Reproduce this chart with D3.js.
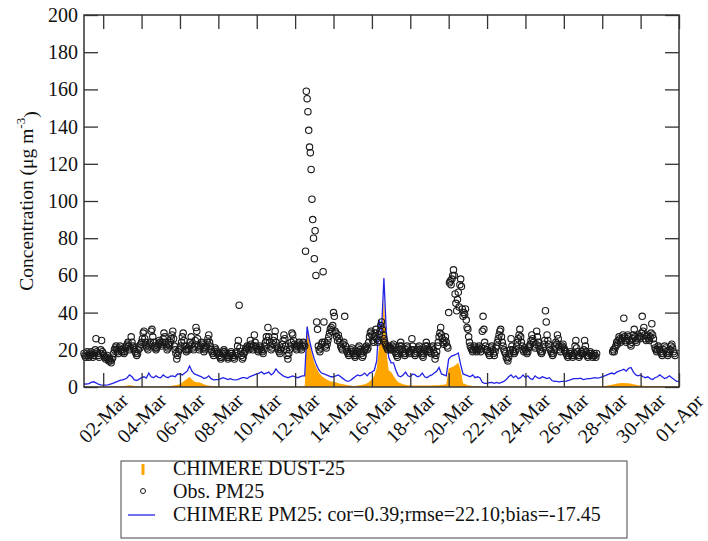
<!DOCTYPE html>
<html>
<head>
<meta charset="utf-8">
<script src="https://cdn.jsdelivr.net/npm/d3@7"></script>
</head>
<body style="margin:0; background:#fff">
<div id="chart"></div>
<script>
// x tick labels (every 2 days)
const xTickLabels = ['02-Mar', '04-Mar', '06-Mar', '08-Mar', '10-Mar', '12-Mar', '14-Mar', '16-Mar',
  '18-Mar', '20-Mar', '22-Mar', '24-Mar', '26-Mar', '28-Mar', '30-Mar', '01-Apr'];
const yTicks = [0, 20, 40, 60, 80, 100, 120, 140, 160, 180, 200];

// CHIMERE PM25, every 3 hours from 01-Mar 00h (one row per day)
const modelPm25 = [
  1.6, 1.6, 1.8, 2.5, 2.8, 2.2, 1.5, 1.2,
  1.0, 1.0, 1.2, 1.5, 2.0, 2.5, 3.0, 3.5,
  3.8, 4.2, 5.0, 6.5, 5.5, 3.8, 3.5, 4.2,
  5.0, 5.5, 4.8, 7.5, 5.5, 5.0, 6.0, 5.2,
  5.0, 6.5, 5.5, 5.0, 5.8, 6.0, 5.5, 7.0,
  7.0, 6.5, 7.5, 8.5, 11.3, 8.5, 7.0, 6.5,
  6.0, 5.5, 4.5, 5.0, 6.0, 4.5, 3.8, 4.0,
  4.0, 4.5, 5.0, 4.5, 4.0, 4.5, 4.0, 3.8,
  4.0, 4.5, 5.0, 5.0, 4.5, 5.5, 6.0, 6.5,
  7.0, 7.5, 8.2, 7.0, 7.5, 8.0, 6.5, 7.5,
  9.7, 8.0, 7.0, 6.0, 5.5, 5.0, 5.5, 6.0,
  5.5, 5.0, 5.5, 6.0, 6.0, 32.5, 25.0, 19.5,
  15.0, 11.5, 9.0, 7.5, 7.0, 6.5, 6.0, 5.5,
  5.5, 6.0, 6.5, 5.5, 4.5, 3.5, 3.0, 3.5,
  4.5, 5.5, 6.5, 6.0, 6.5, 7.5, 6.0, 7.5,
  8.0, 9.0, 14.0, 36.0, 30.0, 58.6, 30.0, 16.0,
  13.0, 13.0, 9.0, 6.0, 5.5, 6.5, 8.0, 6.0,
  5.5, 7.0, 6.5, 5.5, 6.0, 7.5, 5.5, 5.0,
  6.0, 6.5, 7.5, 8.5, 10.5, 7.0, 6.5, 6.0,
  15.0, 16.5, 17.0, 17.5, 18.3, 12.0, 7.0, 6.5,
  6.0, 5.5, 6.5, 5.0, 5.5, 5.0, 2.5, 2.0,
  2.0, 2.3, 2.5, 2.0, 2.5, 2.0, 2.5, 3.0,
  4.0, 5.5, 6.5, 5.0, 6.0, 4.5, 5.0, 6.5,
  5.0, 6.0, 4.5, 4.0, 6.0, 5.0, 4.5, 5.5,
  5.0, 4.5, 5.0, 3.5, 3.0, 3.0, 2.8, 3.0,
  3.0, 3.2, 3.5, 4.0, 4.5, 4.5, 4.5, 4.7,
  4.0, 4.2, 4.5, 4.5, 4.8, 5.0, 4.8, 5.0,
  5.5, 6.0, 6.5, 7.0, 7.5, 7.0, 8.0, 8.5,
  9.0, 9.5, 8.5, 10.0, 10.5, 8.0, 6.5, 6.0,
  6.5, 5.5, 5.0, 5.5, 4.5, 4.0, 5.0, 5.5,
  6.5, 5.5, 4.5, 5.0, 6.0, 5.0, 4.0, 3.0,
  3.0
];

// CHIMERE DUST-25, every 3 hours
const modelDust = [
  0.3, 0.3, 0.3, 0.3, 0.3, 0.3, 0.3, 0.3,
  0.3, 0.3, 0.3, 0.4, 0.5, 0.5, 0.4, 0.4,
  0.5, 0.6, 0.8, 1.0, 0.8, 0.6, 0.5, 0.4,
  0.4, 0.3, 0.3, 0.3, 0.4, 0.4, 0.3, 0.3,
  0.3, 0.4, 0.4, 0.5, 0.6, 0.8, 1.0, 1.2,
  1.5, 2.5, 3.5, 4.5, 5.5, 4.0, 3.0, 2.5,
  2.5, 2.0, 1.5, 1.0, 0.8, 0.6, 0.5, 0.5,
  0.4, 0.4, 0.4, 0.3, 0.3, 0.3, 0.3, 0.3,
  0.3, 0.3, 0.3, 0.3, 0.3, 0.3, 0.3, 0.3,
  0.3, 0.3, 0.3, 0.3, 0.3, 0.3, 0.3, 0.3,
  0.3, 0.3, 0.3, 0.3, 0.3, 0.3, 0.3, 0.3,
  0.3, 0.3, 0.3, 0.4, 0.5, 31.0, 24.0, 18.0,
  13.0, 10.0, 7.5, 6.0, 5.0, 4.2, 3.5, 3.0,
  2.8, 2.5, 2.0, 1.8, 1.5, 1.2, 1.0, 0.8,
  0.5, 0.6, 0.8, 1.0, 1.2, 1.5, 2.0, 3.0,
  4.0, 6.0, 10.0, 22.0, 24.0, 48.0, 20.0, 9.0,
  8.0, 6.0, 4.0, 2.5, 2.0, 1.5, 1.2, 1.0,
  1.0, 0.8, 0.8, 0.8, 0.8, 0.8, 0.8, 0.8,
  0.8, 0.8, 1.0, 1.0, 1.0, 1.2, 1.2, 1.5,
  10.0, 10.5, 11.0, 12.0, 13.0, 9.0, 2.0, 1.5,
  1.0, 0.8, 0.6, 0.5, 0.5, 0.4, 0.3, 0.3,
  0.3, 0.3, 0.3, 0.3, 0.3, 0.3, 0.3, 0.3,
  0.3, 0.3, 0.3, 0.3, 0.3, 0.3, 0.3, 0.3,
  0.3, 0.3, 0.3, 0.3, 0.3, 0.3, 0.3, 0.3,
  0.3, 0.3, 0.3, 0.3, 0.3, 0.3, 0.3, 0.3,
  0.3, 0.3, 0.3, 0.3, 0.3, 0.3, 0.3, 0.3,
  0.3, 0.3, 0.3, 0.3, 0.3, 0.3, 0.3, 0.3,
  0.5, 0.6, 0.8, 1.0, 1.2, 1.5, 1.8, 2.0,
  2.2, 2.2, 2.0, 2.0, 1.8, 1.5, 1.2, 1.0,
  0.8, 0.7, 0.6, 0.6, 0.5, 0.5, 0.5, 0.5,
  0.5, 0.5, 0.5, 0.5, 0.4, 0.4, 0.4, 0.4,
  0.4
];

// Obs. PM25, hourly from 01-Mar 00h (one row per day, null = missing)
const obsPm25 = [
  18, 17, 16, 18, 19, 17, 16, 18, 17, 19, 18, 16, 17, 18, 20, 26, 19, 18, 17, 16, 18, 20, 25, 19,
  18, 17, 16, 15, 16, 17, 15, 14, 15, 14, 13, 15, 16, 18, 20, 21, 22, 20, 19, 18, 21, 22, 20, 19,
  20, 19, 18, 19, 21, 22, 23, 24, 22, 20, 21, 27, 24, 22, 21, 20, 19, 18, 17, 18, 20, 22, 21, 23,
  24, 26, 29, 30, 26, 24, 22, 21, 20, 22, 23, 24, 30, 31, 27, 24, 22, 21, 20, 21, 22, 23, 25, 24,
  23, 22, 24, 26, 29, 27, 24, 22, 20, 21, 23, 22, 24, 26, 28, 30, 26, 22, 20, 18, 15, 17, 19, 20,
  21, 22, 24, 27, 29, 25, 22, 20, 19, 20, 21, 20, 22, 24, 27, 23, 21, 20, 22, 25, 32, 30, 26, 22,
  20, 21, 22, 24, 23, 21, 19, 20, 21, 22, 24, 26, 28, 24, 22, 20, 19, 18, 17, 19, 21, 20, 19, 18,
  18, 17, 16, 15, 16, 18, 19, 20, 19, 18, 17, 16, 15, 16, 17, 18, 19, 18, 17, 16, 15, 17, 18, 19,
  22, 25, 44, 21, 19, 17, 15, 16, 18, 19, 20, 21, 22, 21, 20, 22, 25, 23, 21, 20, 22, 28, 24, 22,
  21, 20, 19, 20, 22, 21, 20, 19, 18, 20, 22, 24, 27, 25, 32, 27, 24, 22, 20, 21, 23, 25, 27, 30,
  24, 22, 21, 20, 19, 18, 20, 21, 23, 25, 28, 26, 22, 20, 17, 15, 18, 20, 22, 24, 29, 28, 25, 23,
  22, 21, 20, 22, 23, 24, 22, 21, 20, 22, 24, 23, 22, 73, 159, 155, 148, 138, 129, 126, 117, 101, 90, 80,
  69, 84, 60, 35, 31, 22, 20, 19, 21, 23, 24, 62, 35, 24, 22, 21, 23, 25, 27, 29, 31, 32, 30, 33,
  40, 38, 30, 29, 27, 25, 28, 26, 24, 22, 21, 20, 23, 24, 38, 22, 20, 19, 18, 17, 18, 19, 20, 21,
  19, 18, 17, 16, 17, 18, 19, 21, 22, 20, 19, 18, 16, 17, 19, 20, 21, 22, 20, 21, 24, 27, 29, 30,
  28, 25, 24, 27, 29, 31, 26, 24, 25, 28, 30, 33, 35, 31, 28, 26, 24, 23, 22, 21, 20, 22, 21, 20,
  21, 20, 22, 23, 21, 19, 18, 17, 16, 18, 20, 22, 24, 22, 20, 19, 18, 17, 18, 20, 22, 21, 19, 18,
  19, 20, 26, 22, 20, 18, 17, 18, 19, 20, 21, 22, 20, 19, 18, 17, 16, 18, 20, 22, 24, 22, 20, 19,
  20, 19, 18, 21, 22, 20, 18, 15, 17, 19, 22, 24, 27, 29, 32, 28, 26, 24, 23, 25, 27, 24, 22, 21,
  40, 56, 57, 55, 58, 60, 63, 60, 50, 45, 41, 47, 51, 43, 55, 58, 54, 42, 38, 40, 39, 42, 36, 32,
  31, 27, 24, 22, 21, 20, 19, 20, 22, 21, 20, 19, 20, 21, 22, 20, 19, 21, 30, 38, 31, 24, 22, 20,
  20, 19, 18, 17, 19, 21, 22, 20, 18, 17, 19, 21, 22, 24, 26, 28, 30, 31, 27, 24, 22, 20, 19, 18,
  16, 15, 14, 16, 18, 20, 26, 22, 20, 19, 18, 19, 20, 22, 24, 26, 28, 31, 27, 24, 22, 20, 19, 21,
  20, 19, 18, 19, 21, 22, 23, 25, 28, 26, 24, 22, 21, 23, 30, 27, 24, 22, 20, 19, 18, 19, 21, 23,
  25, 41, 35, 28, 25, 23, 21, 20, 19, 18, 17, 18, 20, 22, 24, 23, 28, 26, 22, 20, 19, 21, 22, 23,
  21, 20, 19, 18, 17, 16, 17, 18, 19, 18, 17, 16, 17, 18, 22, 25, 21, 19, 17, 16, 17, 18, 19, 18,
  18, 20, 25, 22, 19, 17, 16, 17, 18, 19, 18, 17, 16, 17, 18, 17, 16, 18, null, null, null, null, null, null,
  null, null, null, null, null, null, null, null, null, null, null, null, null, 19, 20, 19, 21, 22, 24, 23, 25, 27, 26, 24,
  25, 26, 28, 37, 27, 25, 24, 26, 28, 27, 25, 23, 22, 24, 26, 28, 31, 27, 25, 24, 26, 28, 27, 26,
  27, 29, 38, 30, 32, 28, 26, 25, 27, 28, 26, 25, 27, 29, 34, 28, 26, 23, 21, 20, 19, 20, 22, 21,
  20, 19, 18, 17, 18, 20, 22, 21, 19, 18, 17, 18, 19, 20, 22, 23, 21, 19, 18, 17, null, null, null, null
];

const legendLabels = ['CHIMERE DUST-25', 'Obs. PM25', 'CHIMERE PM25: cor=0.39;rmse=22.10;bias=-17.45'];

const serif = 'Liberation Serif';

// put the serif face on a text selection, both as attribute and inline style
function serifText(sel, size) {
  return sel.attr('font-family', serif)
    .attr('font-size', size)
    .style('font-family', serif)
    .style('font-size', size + 'px');
}

function drawChart() {
  const width = 708, height = 541;
  const left = 84, right = 679, top = 15, bottom = 387;

  const svg = d3.select('#chart').append('svg')
    .attr('width', width)
    .attr('height', height)
    .attr('font-family', serif);

  // hours since 01-Mar 00h
  const x = d3.scaleLinear().domain([0, 31 * 24]).range([left, right]);
  const y = d3.scaleLinear().domain([0, 200]).range([bottom, top]);
  const xTickHours = xTickLabels.map((d, i) => (2 * i + 1) * 24);

  // dust area
  const dustArea = d3.area()
    .x((d, i) => x(i * 3))
    .y0(y(0))
    .y1(d => y(d));
  svg.append('path')
    .datum(modelDust)
    .attr('d', dustArea)
    .attr('fill', '#ffa500');

  // model line
  const line = d3.line()
    .x((d, i) => x(i * 3))
    .y(d => y(d));
  svg.append('path')
    .datum(modelPm25)
    .attr('d', line)
    .attr('fill', 'none')
    .attr('stroke', '#2323e6')
    .attr('stroke-width', 1.3);

  // observations
  const obs = obsPm25.map((v, i) => ({ h: i, v: v })).filter(d => d.v !== null);
  svg.append('g')
    .selectAll('circle')
    .data(obs)
    .enter()
    .append('circle')
    .attr('cx', d => x(d.h))
    .attr('cy', d => y(d.v))
    .attr('r', 3.2)
    .attr('fill', 'none')
    .attr('stroke', '#1a1a1a')
    .attr('stroke-width', 1.1);

  // axes, ticks pointing inwards
  const yLeft = svg.append('g')
    .attr('transform', `translate(${left},0)`)
    .call(d3.axisLeft(y).tickValues(yTicks).tickSize(-14).tickPadding(6));
  const yRight = svg.append('g')
    .attr('transform', `translate(${right},0)`)
    .call(d3.axisRight(y).tickValues(yTicks).tickSize(-14).tickFormat(''));
  const xBottom = svg.append('g')
    .attr('transform', `translate(0,${bottom})`)
    .call(d3.axisBottom(x).tickValues(xTickHours).tickSize(-14).tickFormat(''));
  const xTop = svg.append('g')
    .attr('transform', `translate(0,${top})`)
    .call(d3.axisTop(x).tickValues(xTickHours).tickSize(-14).tickFormat(''));

  [yLeft, yRight, xBottom, xTop].forEach(g => {
    g.attr('font-family', serif);
    g.select('.domain').remove();
    g.selectAll('.tick line').attr('stroke', '#333').attr('stroke-width', 1.3);
  });
  serifText(yLeft.selectAll('.tick text'), 20).attr('fill', '#111');

  // rotated date labels
  const dateLabels = svg.append('g')
    .selectAll('text')
    .data(xTickLabels)
    .enter()
    .append('text')
    .attr('transform', (d, i) => `translate(${x(xTickHours[i])},418) rotate(-45)`)
    .attr('text-anchor', 'middle')
    .attr('dy', '0.35em')
    .attr('fill', '#111')
    .text(d => d);
  serifText(dateLabels, 20);

  // frame
  svg.append('rect')
    .attr('x', left)
    .attr('y', top)
    .attr('width', right - left)
    .attr('height', bottom - top)
    .attr('fill', 'none')
    .attr('stroke', '#333')
    .attr('stroke-width', 1.5);

  // y title
  const title = svg.append('text')
    .attr('transform', `translate(33,${(top + bottom) / 2}) rotate(-90)`)
    .attr('text-anchor', 'middle')
    .attr('fill', '#111');
  serifText(title, 19.5);
  title.append('tspan').text('Concentration (μg m');
  serifText(title.append('tspan').attr('dy', '-0.6em'), 13).text('-3');
  title.append('tspan').attr('dy', '0.6em').text(')');

  // legend
  const legend = svg.append('g');
  legend.append('rect')
    .attr('x', 121)
    .attr('y', 461)
    .attr('width', 506)
    .attr('height', 77)
    .attr('fill', 'none')
    .attr('stroke', '#444')
    .attr('stroke-width', 1);
  legend.append('rect')
    .attr('x', 141.5).attr('y', 464)
    .attr('width', 3).attr('height', 11)
    .attr('fill', '#ffa500');
  legend.append('circle')
    .attr('cx', 143).attr('cy', 491).attr('r', 2.5)
    .attr('fill', 'none').attr('stroke', '#1a1a1a').attr('stroke-width', 1);
  legend.append('line')
    .attr('x1', 128).attr('x2', 155).attr('y1', 515).attr('y2', 515)
    .attr('stroke', '#2323e6').attr('stroke-width', 1.3);
  const labels = legend.selectAll('text.lab')
    .data(legendLabels)
    .enter()
    .append('text')
    .attr('class', 'lab')
    .attr('x', 173)
    .attr('y', (d, i) => 475 + i * 23)
    .attr('fill', '#111')
    .text(d => d);
  serifText(labels, 20);
}

drawChart();
</script>
</body>
</html>
